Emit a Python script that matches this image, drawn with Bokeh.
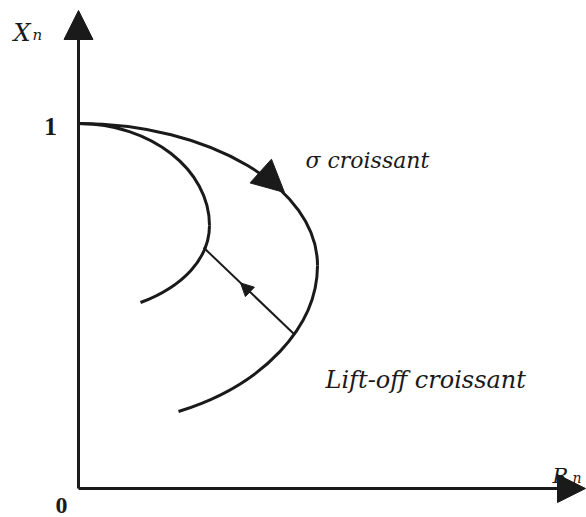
from bokeh.plotting import figure
from bokeh.models import Range1d, Arrow, NormalHead, Label
from bokeh.embed import file_html
from bokeh.resources import INLINE

# Outer locus (sigma increasing): two cubic Bezier segments, in (R_n, X_n) units
outer_x0 = [0.0, 0.6548]
outer_y0 = [1.0, 0.6110]
outer_cx0 = [0.3589, 0.6548]
outer_cy0 = [1.0, 0.4438]
outer_cx1 = [0.6548, 0.5068]
outer_cy1 = [0.8247, 0.2822]
outer_x1 = [0.6548, 0.2740]
outer_y1 = [0.6110, 0.2110]

# Inner locus
inner_x0 = [0.0, 0.3589]
inner_y0 = [1.0, 0.7205]
inner_cx0 = [0.1973, 0.3589]
inner_cy0 = [1.0, 0.6301]
inner_cx1 = [0.3589, 0.2863]
inner_cy1 = [0.8740, 0.5534]
inner_x1 = [0.3589, 0.1699]
inner_y1 = [0.7205, 0.5096]

# Lift-off connector between the two loci
liftoff_r = [0.3425, 0.5890]
liftoff_x = [0.6603, 0.4247]

tick_labels = ["1", "0"]

INK = "#1a1a1a"
SERIF = "Liberation Serif"
WIDE = "DejaVu Serif"

p = figure(width=586, height=517, output_backend="svg", toolbar_location=None,
           x_range=Range1d(-78 / 365, 508 / 365), y_range=Range1d(-29 / 365, 488 / 365),
           x_axis_type=None, y_axis_type=None, min_border=0)
p.grid.visible = False
p.outline_line_color = None
p.background_fill_color = "white"
p.border_fill_color = "white"

# Axes drawn as arrows
p.add_layout(Arrow(x_start=0, y_start=0, x_end=0, y_end=478 / 365,
                   line_width=3, line_color=INK,
                   end=NormalHead(size=29, fill_color=INK, line_color=INK)))
p.add_layout(Arrow(x_start=0, y_start=0, x_end=507 / 365, y_end=0,
                   line_width=3, line_color=INK,
                   end=NormalHead(size=28, fill_color=INK, line_color=INK)))

# Loci
p.bezier(x0=outer_x0, y0=outer_y0, x1=outer_x1, y1=outer_y1,
         cx0=outer_cx0, cy0=outer_cy0, cx1=outer_cx1, cy1=outer_cy1,
         line_width=3, line_color=INK)
p.bezier(x0=inner_x0, y0=inner_y0, x1=inner_x1, y1=inner_y1,
         cx0=inner_cx0, cy0=inner_cy0, cx1=inner_cx1, cy1=inner_cy1,
         line_width=3, line_color=INK)

# Direction of increasing sigma along the outer locus
p.add_layout(Arrow(x_start=0.5068, y_start=0.8630, x_end=0.5644, y_end=0.8110,
                   line_alpha=0,
                   end=NormalHead(size=32, fill_color=INK, line_color=INK)))

# Lift-off connector with its arrow
p.line(liftoff_r, liftoff_x, line_width=2, line_color=INK)
p.add_layout(Arrow(x_start=liftoff_r[1], y_start=liftoff_x[1], x_end=0.4438, y_end=0.5633,
                   line_alpha=0,
                   end=NormalHead(size=13, fill_color=INK, line_color=INK)))

def label(x, y, text, size, font=WIDE, style="italic", align="left", baseline="alphabetic"):
    p.add_layout(Label(x=x, y=y, text=text, text_font=font, text_font_style=style,
                       text_font_size=size, text_color=INK,
                       text_align=align, text_baseline=baseline))

label(-0.1781, 1.2466, "X", "24px")
label(-0.1260, 1.2411, "n", "15px")
label(1.2986, 0.0356, "R", "21px")
label(1.3534, 0.0274, "n", "14px")
label(-0.0767, 0.9918, tick_labels[0], "26px", font=SERIF, style="bold", align="center", baseline="middle")
label(-0.0466, -0.0466, tick_labels[1], "24px", font=SERIF, style="bold", align="center", baseline="middle")
label(0.6219, 0.8986, "σ croissant", "22px")
label(0.6767, 0.2959, "Lift-off croissant", "24px")

open("out.html", "w").write(file_html(p, INLINE))
